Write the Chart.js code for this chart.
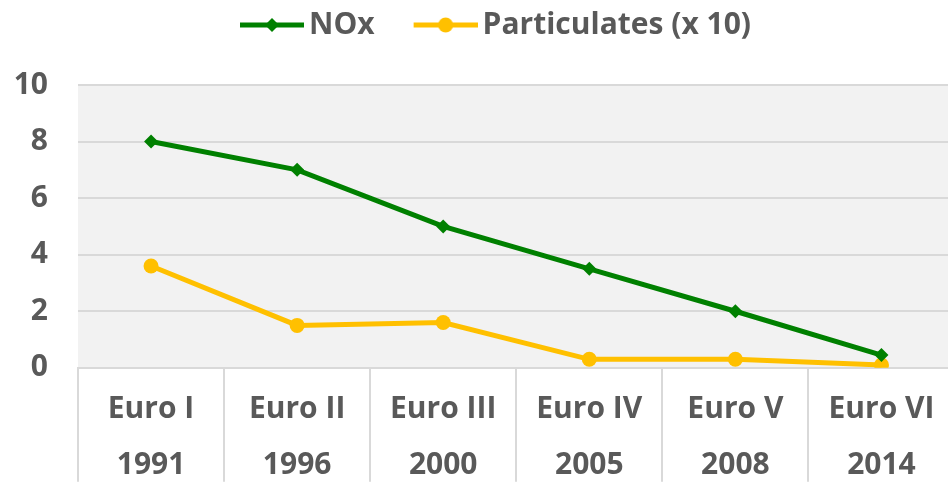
<!DOCTYPE html>
<html>
<head>
<meta charset="utf-8">
<script src="https://cdn.jsdelivr.net/npm/chart.js@4.4.1/dist/chart.umd.min.js"></script>
<style>
  html, body { margin: 0; padding: 0; background: #fff; overflow: hidden; }
  #wrap { position: absolute; left: 0; top: 0; width: 962px; height: 500px; }
</style>
</head>
<body>
<div id="wrap"><canvas id="chart"></canvas></div>
<script>
// données
const categories = [['Euro I', '1991'], ['Euro II', '1996'], ['Euro III', '2000'],
                    ['Euro IV', '2005'], ['Euro V', '2008'], ['Euro VI', '2014']];
const nox = [8, 7, 5, 3.5, 2, 0.45];
const particules = [3.6, 1.5, 1.6, 0.3, 0.3, 0.1];
const yTicks = [0, 2, 4, 6, 8, 10];

const FONT = 'Open Sans';
const TXT = '#595959';
const GRID = '#d9d9d9';
const GREEN = '#008000';
const GOLD = '#ffc000';

// ligne + marqueur pour la légende (marge transparente à gauche = espace entre items)
function legendIcon(color, shape) {
    const c = document.createElement('canvas');
    c.width = 103; c.height = 18;
    const g = c.getContext('2d');
    g.strokeStyle = color;
    g.lineWidth = 5;
    g.beginPath(); g.moveTo(39, 9); g.lineTo(103, 9); g.stroke();
    g.fillStyle = color;
    g.beginPath();
    if (shape === 'diamond') {
        g.moveTo(71, 2); g.lineTo(78, 9); g.lineTo(71, 16); g.lineTo(64, 9);
        g.closePath();
    } else {
        g.arc(71, 9, 7.5, 0, Math.PI * 2);
    }
    g.fill();
    return c;
}
const icons = [legendIcon(GREEN, 'diamond'), legendIcon(GOLD, 'circle')];

const plotBg = {
    id: 'plotBg',
    beforeDraw(chart) {
        const a = chart.chartArea;
        const ctx = chart.ctx;
        ctx.save();
        ctx.fillStyle = '#f2f2f2';
        ctx.fillRect(a.left, a.top, a.right - a.left, a.bottom - a.top);
        ctx.restore();
    }
};

new Chart(document.getElementById('chart'), {
    type: 'line',
    data: {
        labels: categories,
        datasets: [
            {
                label: 'NOx',
                data: nox,
                borderColor: GREEN,
                backgroundColor: GREEN,
                borderWidth: 5,
                pointStyle: 'rectRot',
                pointRadius: 7,
                pointBorderWidth: 0,
                tension: 0
            },
            {
                label: 'Particulates (x 10)',
                data: particules,
                borderColor: GOLD,
                backgroundColor: GOLD,
                borderWidth: 5,
                pointStyle: 'circle',
                pointRadius: 7.5,
                pointBorderWidth: 0,
                tension: 0
            }
        ]
    },
    options: {
        responsive: true,
        maintainAspectRatio: false,
        animation: false,
        layout: { padding: 0 },
        plugins: {
            legend: {
                position: 'top',
                labels: {
                    usePointStyle: true,
                    pointStyleWidth: 83,
                    boxHeight: 18,
                    padding: 10,
                    color: TXT,
                    font: { family: FONT, size: 30, weight: 'bold' },
                    generateLabels(chart) {
                        return chart.data.datasets.map((ds, i) => ({
                            text: ds.label,
                            fillStyle: ds.borderColor,
                            strokeStyle: ds.borderColor,
                            lineWidth: 0,
                            pointStyle: icons[i],
                            fontColor: TXT,
                            hidden: false,
                            datasetIndex: i
                        }));
                    }
                }
            },
            tooltip: { enabled: false }
        },
        scales: {
            x: {
                offset: true,
                weight: 1,
                grid: { display: false },
                border: { display: false },
                ticks: {
                    padding: 6,
                    autoSkip: false,
                    maxRotation: 0,
                    color: TXT,
                    font: { family: FONT, size: 30, weight: 'bold', lineHeight: 1.87 }
                }
            },
            // séparateurs verticaux sous l'axe des catégories
            sep: {
                type: 'category',
                position: 'bottom',
                offset: true,
                weight: 0,
                afterFit(scale) { scale.height = 0; },
                grid: {
                    offset: true,
                    drawOnChartArea: false,
                    tickLength: 114,
                    color: GRID,
                    lineWidth: 2
                },
                border: { display: true, color: GRID, width: 2 },
                ticks: { display: false }
            },
            // espace entre la légende et la zone de tracé
            gap: {
                type: 'category',
                position: 'top',
                afterFit(scale) { scale.height = 35; },
                grid: { display: false },
                border: { display: false },
                ticks: { display: false }
            },
            y: {
                min: 0,
                max: 10,
                afterFit(scale) { scale.width = 78; },
                afterBuildTicks(scale) { scale.ticks = yTicks.map(v => ({ value: v })); },
                grid: { color: GRID, lineWidth: 2, drawTicks: false },
                border: { display: false },
                ticks: {
                    padding: 30,
                    autoSkip: false,
                    color: TXT,
                    font: { family: FONT, size: 30, weight: 'bold' }
                }
            }
        }
    },
    plugins: [plotBg]
});
</script>
</body>
</html>
